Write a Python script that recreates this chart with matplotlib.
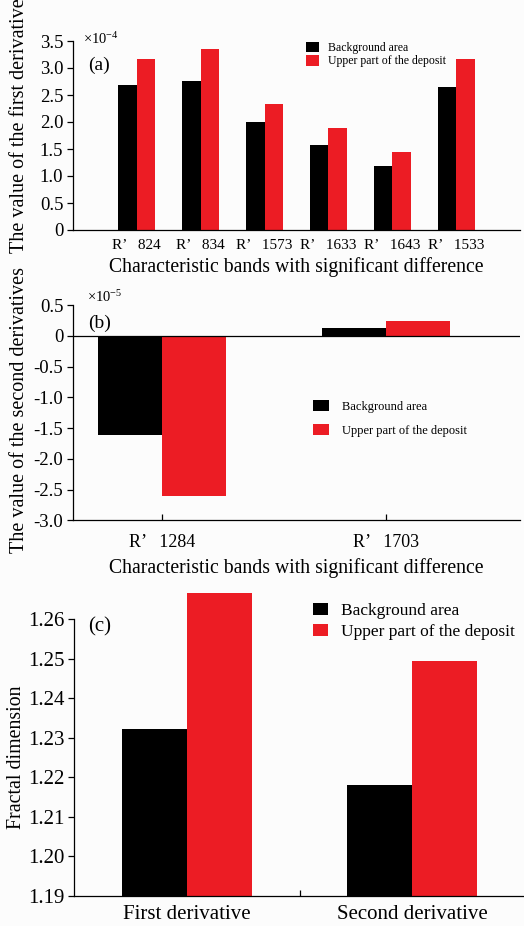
import matplotlib
matplotlib.use("Agg")
import matplotlib.pyplot as plt
from matplotlib.patches import Patch
import numpy as np

# ---------------------------------------------------------------------------
# Data
# ---------------------------------------------------------------------------
bands_a = ["R’   824", "R’   834", "R’   1573", "R’   1633", "R’   1643", "R’   1533"]
bg_a = [2.68, 2.76, 2.00, 1.58, 1.185, 2.64]          # x1e-4
up_a = [3.16, 3.35, 2.33, 1.89, 1.44, 3.17]

bands_b = ["R’   1284", "R’   1703"]
bg_b = [-1.62, 0.12]                                   # x1e-5
up_b = [-2.61, 0.24]

kinds_c = ["First derivative", "Second derivative"]
bg_c = [1.2323, 1.2181]
up_c = [1.2665, 1.2493]

ticks_a = [0, 0.5, 1.0, 1.5, 2.0, 2.5, 3.0, 3.5]
ticks_b = [0.5, 0, -0.5, -1.0, -1.5, -2.0, -2.5, -3.0]
ticks_c = [1.19, 1.20, 1.21, 1.22, 1.23, 1.24, 1.25, 1.26]

RED = "#ec1c24"
BLACK = "#000000"
SERIES = ["Background area", "Upper part of the deposit"]

plt.rcParams["font.family"] = ["Liberation Serif", "DejaVu Serif"]
plt.rcParams["mathtext.fontset"] = "custom"
plt.rcParams["mathtext.rm"] = "Liberation Serif"
plt.rcParams["mathtext.it"] = "Liberation Serif:italic"

W, H = 524, 926
fig = plt.figure(figsize=(W / 100, H / 100), dpi=100, facecolor="#fcfcfc")


def fx(x):
    return x / W


def fy(y):
    return 1 - y / H


def make_axes(left, top, right, bottom):
    ax = fig.add_axes([fx(left), fy(bottom), fx(right) - fx(left), fy(top) - fy(bottom)])
    ax.set_facecolor("none")
    for s in ["top", "right"]:
        ax.spines[s].set_visible(False)
    for s in ["left", "bottom"]:
        ax.spines[s].set_linewidth(0.9)
    return ax


def add_legend(ax, x, y, fs, hl, hh, ls, pad):
    handles = [Patch(facecolor=BLACK, edgecolor="none"),
               Patch(facecolor=RED, edgecolor="none")]
    ax.legend(handles, SERIES, loc="upper left", bbox_to_anchor=(fx(x), fy(y)),
              bbox_transform=fig.transFigure, frameon=False, fontsize=fs,
              handlelength=hl, handleheight=hh, labelspacing=ls,
              handletextpad=pad, borderpad=0, borderaxespad=0)


# ---------------------------------------------------------------------------
# (a) first derivative
# ---------------------------------------------------------------------------
ax = make_axes(73, 41, 520, 230)
xa = np.arange(1, len(bands_a) + 1)
wa = 0.29
ax.bar(xa - wa / 2, bg_a, wa, color=BLACK)
ax.bar(xa + wa / 2, up_a, wa, color=RED)
ax.set_xlim(0, 7)
ax.set_ylim(0, 3.5)
ax.set_yticks(ticks_a)
ax.set_yticklabels(["0" if t == 0 else f"{t:.1f}" for t in ticks_a])
ax.tick_params(axis="y", direction="out", length=4, width=0.9, pad=3, labelsize=13.5)
ax.set_xticks(xa)
ax.set_xticklabels(bands_a)
ax.tick_params(axis="x", length=0, pad=6.5, labelsize=11)
add_legend(ax, 306, 42, 8.5, 1.1, 0.95, 0.1, 0.75)
fig.text(fx(83), fy(44), r"×10$^{-4}$", fontsize=10.5, va="baseline")
fig.text(fx(88), fy(65), "(a)", fontsize=14, va="center")
fig.text(fx(296), fy(272), "Characteristic bands with significant difference",
         fontsize=14.2, ha="center", va="baseline")
fig.text(fx(20), fy(126), "The value of the first derivative", fontsize=14.5,
         rotation=90, ha="center", va="center")

# ---------------------------------------------------------------------------
# (b) second derivative
# ---------------------------------------------------------------------------
ax = make_axes(73, 305, 520, 520.3)
xb = np.arange(1, len(bands_b) + 1)
wb = 0.286
ax.bar(xb - wb / 2, bg_b, wb, color=BLACK)
ax.bar(xb + wb / 2, up_b, wb, color=RED)
ax.axhline(0, color="black", lw=0.9)
ax.set_xlim(0.6, 2.6)
ax.set_ylim(-3.0, 0.5)
ax.set_yticks(ticks_b)
ax.set_yticklabels(["0" if t == 0 else f"{t:.1f}" for t in ticks_b])
ax.tick_params(axis="y", direction="out", length=4, width=0.9, pad=3, labelsize=13.5)
ax.set_xticks(xb)
ax.set_xticklabels(bands_b)
ax.tick_params(axis="x", direction="in", length=4, width=0.9, pad=10, labelsize=13)
add_legend(ax, 313, 400, 9, 1.3, 0.95, 0.9, 1.0)
fig.text(fx(87), fy(302), r"×10$^{-5}$", fontsize=10.5, va="baseline")
fig.text(fx(88), fy(323), "(b)", fontsize=14, va="center")
fig.text(fx(296), fy(573.5), "Characteristic bands with significant difference",
         fontsize=14.2, ha="center", va="baseline")
fig.text(fx(20), fy(410), "The value of the second derivatives", fontsize=14.5,
         rotation=90, ha="center", va="center")

# ---------------------------------------------------------------------------
# (c) fractal dimension
# ---------------------------------------------------------------------------
# axis runs a little above 1.26 so the tallest bar shows; the spine stops at 1.26
ax = make_axes(74, 587.4, 525, 895.7)
xc = np.arange(1, len(kinds_c) + 1)
wc = 0.289
ax.bar(xc - wc / 2, bg_c, wc, color=BLACK)
ax.bar(xc + wc / 2, up_c, wc, color=RED)
ax.set_xlim(0.5, 2.5)
ax.set_ylim(1.19, 1.268)
ax.spines["left"].set_bounds(1.19, 1.26)
ax.set_yticks(ticks_c)
ax.set_yticklabels([f"{t:.2f}" for t in ticks_c])
ax.tick_params(axis="y", direction="out", length=4, width=0.9, pad=3, labelsize=15)
ax.set_xticks(xc)
ax.set_xticklabels(kinds_c)
ax.tick_params(axis="x", which="major", length=0, pad=7, labelsize=15)
ax.set_xticks([1.5], minor=True)
ax.tick_params(axis="x", which="minor", direction="in", length=4, width=0.9)
add_legend(ax, 313, 603, 12.5, 0.85, 0.65, 0.3, 0.75)
fig.text(fx(88), fy(627), "(c)", fontsize=15, va="center")
fig.text(fx(17), fy(757), "Fractal dimension", fontsize=14.3,
         rotation=90, ha="center", va="center")

fig.savefig("out.png", dpi=100, facecolor=fig.get_facecolor())
